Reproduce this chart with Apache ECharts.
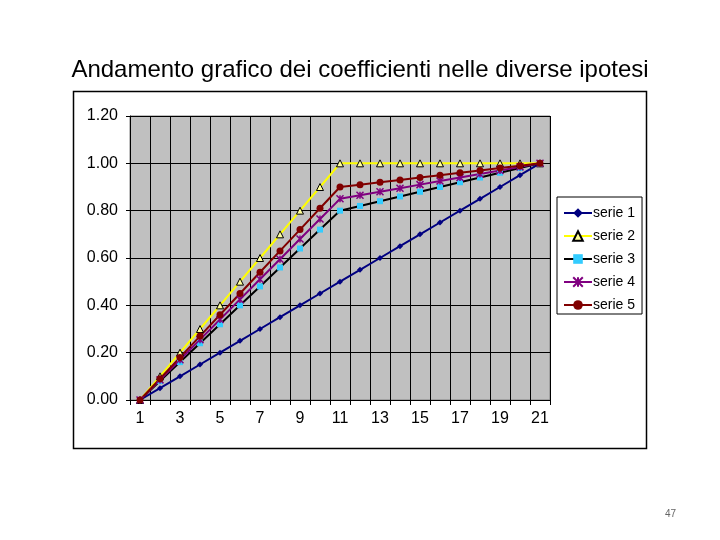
<!DOCTYPE html>
<html>
<head>
<meta charset="utf-8">
<script src="https://cdn.jsdelivr.net/npm/echarts@6/dist/echarts.min.js"></script>
<style>
  html, body { margin: 0; padding: 0; background: #fff; }
  #chart { width: 720px; height: 540px; }
</style>
</head>
<body>
<div id="chart"></div>
<script>
const categories = ['1', '2', '3', '4', '5', '6', '7', '8', '9', '10', '11',
  '12', '13', '14', '15', '16', '17', '18', '19', '20', '21'];

const serie1 = [0, 0.05, 0.10, 0.15, 0.20, 0.25, 0.30, 0.35, 0.40, 0.45, 0.50,
  0.55, 0.60, 0.65, 0.70, 0.75, 0.80, 0.85, 0.90, 0.95, 1.00];
const serie2 = [0, 0.10, 0.20, 0.30, 0.40, 0.50, 0.60, 0.70, 0.80, 0.90, 1.00,
  1.00, 1.00, 1.00, 1.00, 1.00, 1.00, 1.00, 1.00, 1.00, 1.00];
const serie3 = [0, 0.08, 0.16, 0.24, 0.32, 0.40, 0.48, 0.56, 0.64, 0.72, 0.80,
  0.82, 0.84, 0.86, 0.88, 0.90, 0.92, 0.94, 0.96, 0.98, 1.00];
const serie4 = [0, 0.085, 0.17, 0.255, 0.34, 0.425, 0.51, 0.595, 0.68, 0.765, 0.85,
  0.865, 0.88, 0.895, 0.91, 0.925, 0.94, 0.955, 0.97, 0.985, 1.00];
const serie5 = [0, 0.09, 0.18, 0.27, 0.36, 0.45, 0.54, 0.63, 0.72, 0.81, 0.90,
  0.91, 0.92, 0.93, 0.94, 0.95, 0.96, 0.97, 0.98, 0.99, 1.00];

const font = 'Arial, "Liberation Sans", sans-serif';

function line(name, data, color, symbol, size, markerStyle) {
  return {
    name: name,
    type: 'line',
    data: data,
    symbol: symbol,
    symbolSize: size,
    showAllSymbol: true,
    lineStyle: { color: color, width: 2 },
    itemStyle: markerStyle,
    emphasis: { disabled: true },
    z: 3
  };
}

const chart = echarts.init(document.getElementById('chart'));

chart.setOption({
  animation: false,
  backgroundColor: '#ffffff',
  title: {
    text: 'Andamento grafico dei coefficienti nelle diverse ipotesi',
    left: 'center',
    top: 53,
    textStyle: { fontFamily: font, fontSize: 24, fontWeight: 'normal', color: '#000' }
  },
  graphic: [
    {
      type: 'rect',
      shape: { x: 73.5, y: 91.5, width: 573, height: 357 },
      style: { fill: 'none', stroke: '#000', lineWidth: 1.5 },
      z: -1
    },
    {
      type: 'text',
      right: 44,
      top: 509,
      style: { text: '47', fontFamily: font, fontSize: 10, fill: '#666' }
    }
  ],
  legend: {
    orient: 'vertical',
    left: 557,
    top: 197,
    padding: [9, 7, 2, 6],
    itemGap: 9,
    itemWidth: 28,
    itemHeight: 12,
    borderColor: '#000',
    borderWidth: 1,
    backgroundColor: '#fff',
    textStyle: { fontFamily: font, fontSize: 14, color: '#000', padding: [0, 0, 0, -4] },
    data: ['serie 1', 'serie 2', 'serie 3', 'serie 4', 'serie 5']
  },
  grid: {
    left: 130,
    top: 116,
    width: 420,
    height: 284,
    show: true,
    backgroundColor: '#c0c0c0',
    borderColor: '#808080',
    borderWidth: 1
  },
  xAxis: {
    type: 'category',
    data: categories,
    boundaryGap: true,
    axisLine: { show: true, lineStyle: { color: '#000', width: 1 } },
    axisTick: { show: true, interval: 0, length: 5, lineStyle: { color: '#000' } },
    axisLabel: { interval: 1, fontFamily: font, fontSize: 16, color: '#000', margin: 11 },
    splitLine: { show: true, interval: 0, lineStyle: { color: '#000', width: 1 } }
  },
  yAxis: {
    type: 'value',
    min: 0,
    max: 1.2,
    interval: 0.2,
    axisLine: { show: true, lineStyle: { color: '#000' } },
    axisTick: { show: true, length: 4, lineStyle: { color: '#000' } },
    axisLabel: {
      fontFamily: font, fontSize: 16, color: '#000', margin: 12,
      formatter: v => v.toFixed(2)
    },
    splitLine: { show: true, lineStyle: { color: '#000', width: 1 } }
  },
  series: [
    line('serie 1', serie1, '#000080', 'diamond', 6, { color: '#000080' }),
    line('serie 2', serie2, '#ffff00', 'triangle', 7,
      { color: '#ffff99', borderColor: '#000', borderWidth: 1 }),
    line('serie 3', serie3, '#000000', 'rect', 6, { color: '#33ccff' }),
    line('serie 4', serie4, '#800080', 'path://M0,0L10,10M10,0L0,10M5,0L5,10', 7,
      { color: '#800080', borderColor: '#800080', borderWidth: 1.5 }),
    line('serie 5', serie5, '#800000', 'circle', 7, { color: '#800000' })
  ]
});
</script>
</body>
</html>
